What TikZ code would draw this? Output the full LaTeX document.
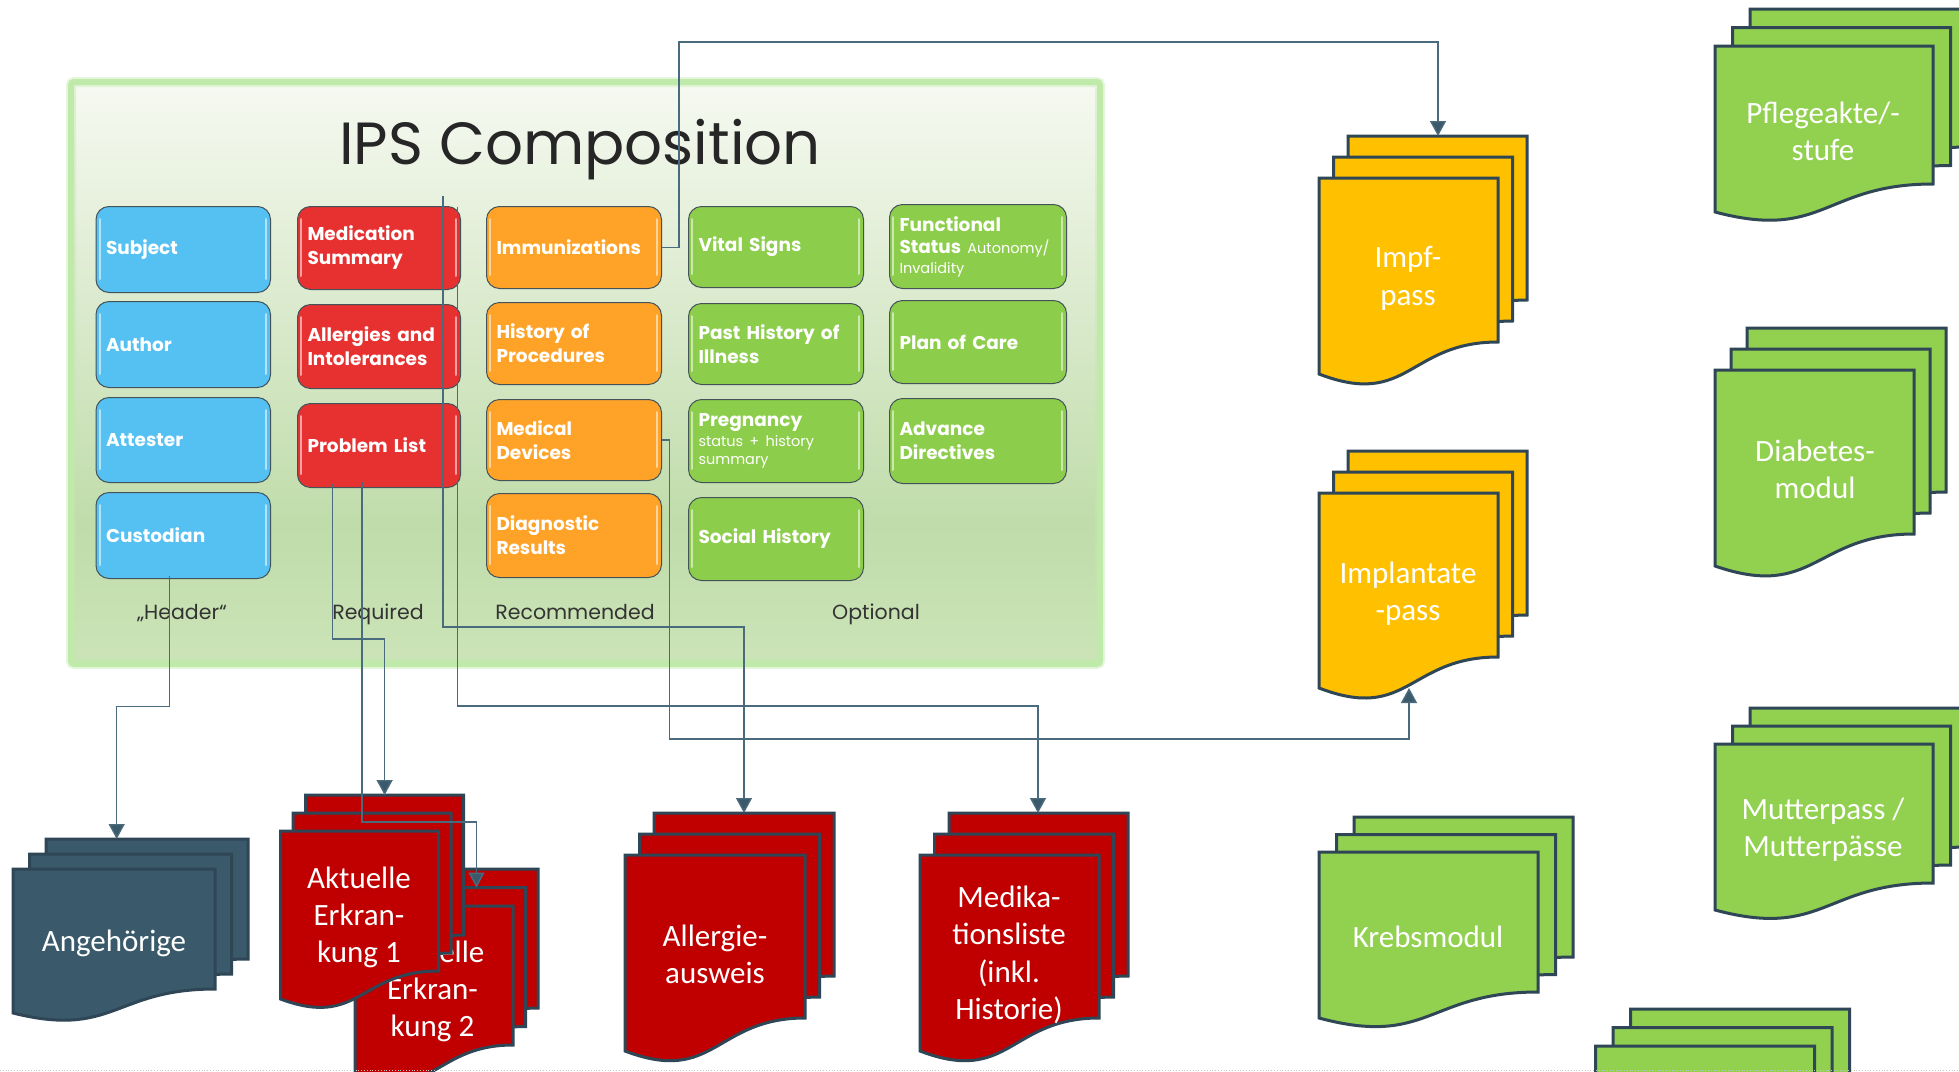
\documentclass[tikz,border=0pt]{standalone}
\usepackage{fontspec}
\usetikzlibrary{arrows.meta}
\newfontfamily\ipsf{Poppins}
\newfontfamily\docf{Carlito}
\definecolor{ipsblue}{HTML}{55C1F3}
\definecolor{ipsred}{HTML}{E73131}
\definecolor{ipsorange}{HTML}{FFA328}
\definecolor{ipsgreen}{HTML}{8CCE4B}
\definecolor{boxline}{HTML}{44535A}
\definecolor{docteal}{HTML}{3A5A6B}
\definecolor{docred}{HTML}{C00000}
\definecolor{docamber}{HTML}{FFC000}
\definecolor{docgreen}{HTML}{92D14F}
\definecolor{docline}{HTML}{2E4656}
\definecolor{connline}{HTML}{4A6B7D}
\definecolor{panelborder}{HTML}{BFEAAA}
\tikzset{
  ipsbox/.style={draw=boxline,line width=1pt,rounded corners=13pt,inner xsep=10pt,inner ysep=0pt,anchor=north west,text=white,align=left,font=\ipsf\bfseries\fontsize{18.5}{24}\selectfont},
  gloss/.style={white,opacity=.55,line width=2pt,line cap=round},
  docshape/.style={draw=docline,line width=3pt,line join=miter},
  doctext/.style={text=white,align=center,inner sep=0pt,yshift=-1.5pt,font=\docf\fontsize{31}{37.3}\selectfont},
  hiddenbox/.style={inner sep=0pt,outer sep=0pt,anchor=north west},
  conn/.style={draw=connline,line width=1.4pt,-{Triangle[length=15pt,width=16pt,fill=docteal]}},
  caption/.style={text=black!80,inner sep=0pt,anchor=base,font=\ipsf\fontsize{20.5}{24}\selectfont}
}
% name, x0, y0, x1, y1, colour, text
\newcommand{\ipsnode}[7]{%
  \node[ipsbox,fill=#6,minimum width=#4pt-#2pt,minimum height=#5pt-#3pt,text width=#4pt-#2pt-20pt] (#1) at (#2,#3) {#7};
  \draw[gloss] (#2+4,#3+13) -- (#2+4,#5-13);
  \draw[gloss] (#4-4,#3+13) -- (#4-4,#5-13);
}
% x,y,w,hr,hl,fill : one sheet
\newcommand{\docsheet}[6]{%
  \draw[docshape,fill=#6] (#1,#2) -- (#1+#3,#2) -- (#1+#3,#2+#4)
    .. controls (#1+0.5*#3,#2+#4) and (#1+0.5*#3,#2+#5+0.21*#4) .. (#1,#2+#5) -- cycle;
}
% name,x,y,w,hr,hl,dx,dy,fill
\newcommand{\docstack}[9]{%
  \docsheet{#2+2*#7}{#3+2*#8}{#4}{#5}{#6}{#9}
  \node[hiddenbox,minimum width=#4pt,minimum height=#5pt] (#1) at (#2+2*#7,#3+2*#8) {};
  \docsheet{#2+#7}{#3+#8}{#4}{#5}{#6}{#9}
  \node[hiddenbox,minimum width=#4pt,minimum height=#5pt] (#1-mid) at (#2+#7,#3+#8) {};
  \docsheet{#2}{#3}{#4}{#5}{#6}{#9}
}
\begin{document}
\begin{tikzpicture}[x=1pt,y=-1pt]
\useasboundingbox (0,0) rectangle (1959,1071);
\clip (0,0) rectangle (1959,1071);
\fill[white] (0,0) rectangle (1959,1071);
% panel
\shade[top color={rgb,255:red,246;green,249;blue,241},bottom color={rgb,255:red,192;green,220;blue,170}] (72,84) rectangle (1100,525);
\shade[top color={rgb,255:red,192;green,220;blue,170},bottom color={rgb,255:red,204;green,228;blue,184}] (72,525) rectangle (1100,664);
\draw[panelborder,opacity=.4,line width=10pt,rounded corners=3pt] (71,82) rectangle (1100,664);
\draw[panelborder,line width=6pt,rounded corners=3pt] (71,82) rectangle (1100,664);
\node[inner sep=0pt,text=black!85,font=\ipsf\fontsize{59.5}{60}\selectfont] (title) at (580,150) {IPS Composition};
% header
\ipsnode{subject}{95.5}{206}{270}{292}{ipsblue}{Subject}
\ipsnode{author}{95.5}{301}{270}{387}{ipsblue}{Author}
\ipsnode{attester}{95.5}{397}{270}{482}{ipsblue}{Attester}
\ipsnode{custodian}{95.5}{492}{270}{578}{ipsblue}{Custodian}
% required
\ipsnode{medication}{297}{206}{460}{289}{ipsred}{Medication\\Summary}
\ipsnode{allergies}{297}{304}{460}{388}{ipsred}{Allergies and\\Intolerances}
\ipsnode{problem}{297}{403}{460}{487}{ipsred}{Problem List}
% recommended
\ipsnode{immun}{486}{206}{661}{288}{ipsorange}{Immunizations}
\ipsnode{procedures}{486}{302}{661}{384}{ipsorange}{History of\\Procedures}
\ipsnode{devices}{486}{399}{661}{480}{ipsorange}{Medical\\Devices}
\ipsnode{diagnostic}{486}{493}{661}{577}{ipsorange}{Diagnostic\\Results}
% optional
\ipsnode{vital}{688}{206}{863}{287}{ipsgreen}{Vital Signs}
\ipsnode{illness}{688}{303}{863}{384}{ipsgreen}{Past History of\\Illness}
\ipsnode{pregnancy}{688}{399}{863}{482}{ipsgreen}{Pregnancy\\[2.5pt]{\mdseries\fontsize{14.5}{17.5}\selectfont status + history\\[-6.5pt]summary}}
\ipsnode{social}{688}{497}{863}{580}{ipsgreen}{Social History}
\ipsnode{functional}{889}{204}{1066}{288}{ipsgreen}{Functional\\[4.5pt]Status {\mdseries\fontsize{14.5}{17.5}\selectfont Autonomy/\\[-4pt]Invalidity}}
\ipsnode{care}{889}{300}{1066}{383}{ipsgreen}{Plan of Care}
\ipsnode{directives}{889}{398}{1066}{483}{ipsgreen}{Advance\\Directives}
% captions
\node[caption] (capH) at (182,619.5) {„Header“};
\node[caption] (capR) at (378,619.5) {Required};
\node[caption] (capM) at (575,619.5) {Recommended};
\node[caption] (capO) at (876,619.5) {Optional};
% document stacks
\docstack{ange}{13}{869}{202}{120}{144}{16.5}{-15}{docteal}
\node[doctext] (angetext) at (114,942) {Angehörige};
\docstack{ak2}{355}{906}{158}{139}{168}{12.5}{-18.5}{docred}
\node[doctext] (ak2text) at (432.5,990) {Aktuelle\\Erkran-\\kung 2};
\docstack{ak1}{280.5}{831}{158}{140}{168}{12.5}{-18}{docred}
\node[doctext] (ak1text) at (359,916) {Aktuelle\\Erkran-\\kung 1};
\docstack{allerg}{625}{855}{180}{163}{196}{14.5}{-21}{docred}
\node[doctext] (allergtext) at (715,952.5) {Allergie-\\ausweis};
\docstack{medi}{920}{855}{179}{163}{196}{14.5}{-21}{docred}
\node[doctext] (meditext) at (1009,953.5) {Medika-\\tionsliste\\(inkl.\\Historie)};
\docstack{impf}{1319}{178}{179}{164}{196}{14.5}{-21}{docamber}
\node[doctext] (impftext) at (1408,277) {Impf-\\pass};
\docstack{impl}{1319}{493}{179}{164}{195}{14.5}{-21}{docamber}
\node[doctext] (impltext) at (1408,592) {Implantate\\-pass};
\docstack{krebs}{1319}{852}{219}{140}{166}{17.5}{-17.5}{docgreen}
\node[doctext] (krebstext) at (1428,935) {Krebsmodul};
\docstack{pflege}{1715}{46}{218}{138}{166}{17.5}{-18.5}{docgreen}
\node[doctext] (pflegetext) at (1823,130) {Pflegeakte/-\\stufe};
\docstack{diabetes}{1715}{370}{199}{164}{196}{16}{-21}{docgreen}
\node[doctext] (diabetestext) at (1815,468) {Diabetes-\\modul};
\docstack{mutter}{1715}{744}{218}{139}{166}{17.5}{-18}{docgreen}
\node[doctext] (muttertext) at (1823,828) {Mutterpass /\\Mutterpässe};
\docstack{extra}{1595.5}{1046}{219}{140}{166}{17.5}{-18.5}{docgreen}
% connectors
\coordinate (implin) at (1409,688);
\draw[conn] ([xshift=-13.5pt,yshift=3pt]custodian.south) |- (116.7,706.7) -- (116.7,706.7 |- ange.north);
\draw[conn] ([xshift=-46.5pt,yshift=4pt]problem.south) |- (384.6,639) -- (384.6,639 |- ak1.north);
\draw[conn] ([xshift=-17pt,yshift=6pt]problem.south) |- (476.5,822) -- (476.5,822 |- ak2-mid.north);
\draw[conn] ([xshift=64pt,yshift=10pt]medication.north) |- (744,627) -- (744,627 |- allerg.north);
\draw[conn] ([xshift=78.5pt,yshift=-1pt]medication.north) |- (1038,706) -- (1038,706 |- medi.north);
\draw[conn] (immun.east) -| (679,42) -| (1438,42 |- impf.north);
\draw[conn] (devices.east) -| (669.5,739) -| (implin);
% faint dotted page rule
\draw[black!22,line width=.8pt,dotted] (0,1070) -- (1959,1070);
\end{tikzpicture}
\end{document}
